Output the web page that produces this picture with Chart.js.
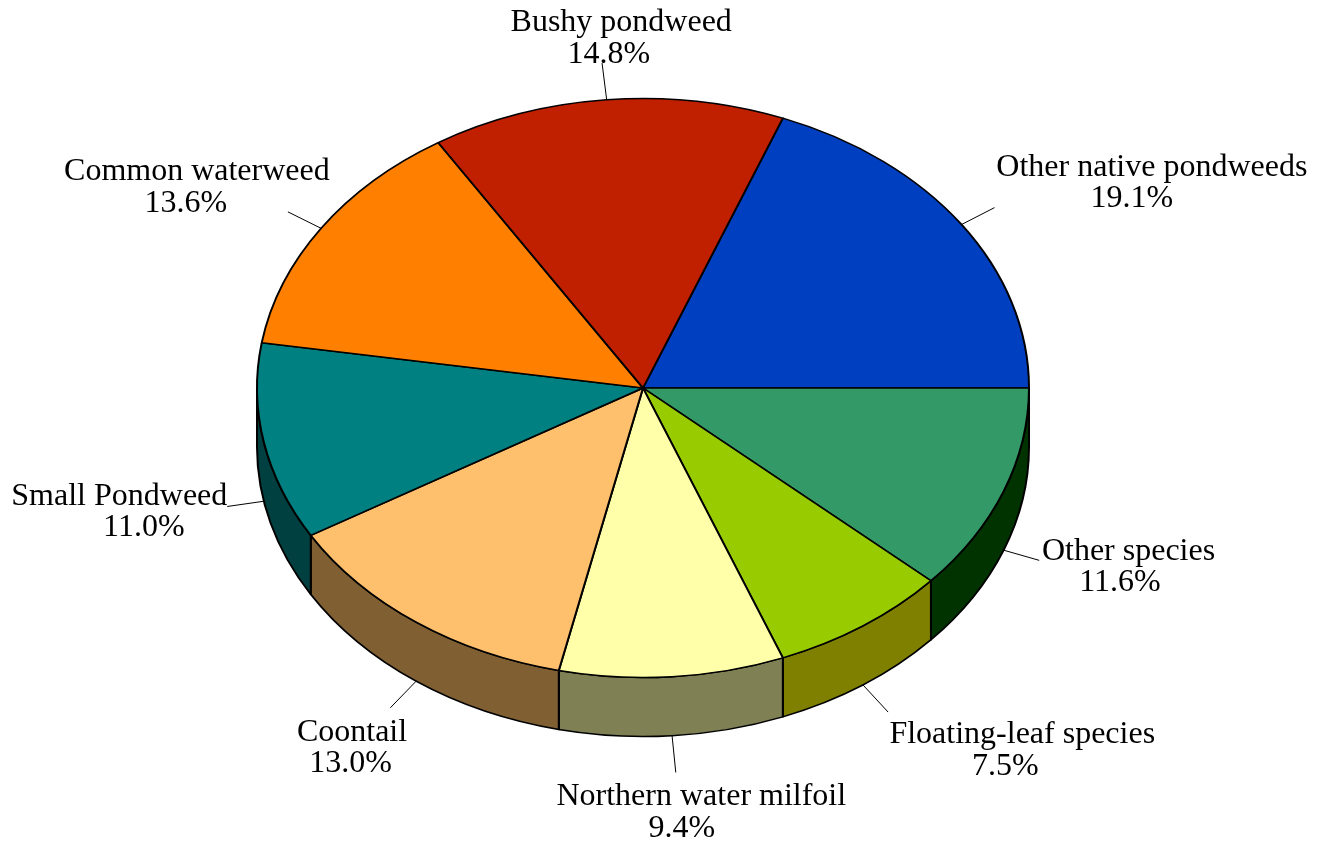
<!DOCTYPE html>
<html>
<head>
<meta charset="utf-8">
<script src="https://cdn.jsdelivr.net/npm/chart.js@4"></script>
<style>
  html, body { margin: 0; padding: 0; background: #fff; }
  #wrap { width: 1328px; height: 844px; }
</style>
</head>
<body>
<div id="wrap"><canvas id="c" width="1328" height="844"></canvas></div>
<script>
// Plant community composition (share of total, %)
const categories = [
  'Other native pondweeds',
  'Other species',
  'Floating-leaf species',
  'Northern water milfoil',
  'Coontail',
  'Small Pondweed',
  'Common waterweed',
  'Bushy pondweed'
];
const shares = [19.1, 11.6, 7.5, 9.4, 13.0, 11.0, 13.6, 14.8];

// Top face and side wall colours per slice
const topColors  = ['#0040C0', '#339966', '#99CC00', '#FFFFAA', '#FFC06E', '#008080', '#FF8000', '#C02000'];
const sideColors = ['#002060', '#003300', '#808000', '#808055', '#806033', '#004040', '#804000', '#601000'];

// Fine placement of each callout block relative to its leader end
const labelNudge = [[19, -12], [6, -4], [44, 13], [11, 6], [0, 15], [-1, -1], [28, -12], [33, 5]];
// Horizontal offset of the percentage line under the name
const pctShift = [-20, -8.5, -17, -19.5, -1.5, 24.5, -11, -12.5];

const TILT = 0.75;      // vertical squash of the disc
const DEPTH = 59;       // height of the side wall in px
const LEADER = 37;      // leader line length
const ROTATION = 21.24; // start angle of the first slice, degrees from 12 o'clock
const FONT = '32px "Liberation Serif", "Times New Roman", serif';
const LINE = 31.5;

function tiltAbout(ctx, x, y) {
  ctx.translate(x, y);
  ctx.scale(1, TILT);
  ctx.translate(-x, -y);
}

// Draws the cylinder wall under the front half of the disc, then tilts the
// context so the library's own arcs are drawn as an ellipse.
const extrusion = {
  id: 'extrusion',
  beforeDatasetsDraw(chart) {
    const ctx = chart.ctx;
    const arcs = chart.getDatasetMeta(0).data;
    const cx = arcs.length ? arcs[0].x : 0;
    const cy = arcs.length ? arcs[0].y : 0;
    const d = DEPTH / TILT;
    ctx.save();
    tiltAbout(ctx, cx, cy);
    ctx.lineWidth = 2;
    ctx.strokeStyle = '#000';
    ctx.lineJoin = 'round';
    arcs.forEach((arc, i) => {
      const r = arc.outerRadius;
      for (const k of [-1, 0, 1]) {
        const a1 = Math.max(arc.startAngle + k * 2 * Math.PI, 0);
        const a2 = Math.min(arc.endAngle + k * 2 * Math.PI, Math.PI);
        if (a2 <= a1) continue;
        ctx.beginPath();
        ctx.arc(cx, cy, r, a1, a2);
        ctx.arc(cx, cy + d, r, a2, a1, true);
        ctx.closePath();
        ctx.fillStyle = sideColors[i];
        ctx.fill();
        ctx.stroke();
      }
    });
    ctx.restore();
    ctx.save();
    tiltAbout(ctx, cx, cy);
  },
  afterDatasetsDraw(chart) {
    chart.ctx.restore();
  }
};

// Leader lines and two-line labels (name + percentage)
const callouts = {
  id: 'callouts',
  afterDraw(chart) {
    const ctx = chart.ctx;
    const arcs = chart.getDatasetMeta(0).data;
    ctx.save();
    ctx.font = FONT;
    arcs.forEach((arc, i) => {
      const mid = (arc.startAngle + arc.endAngle) / 2;
      const c = Math.cos(mid), s = Math.sin(mid);
      const vx = arc.outerRadius * c, vy = arc.outerRadius * TILT * s;
      const len = Math.hypot(vx, vy);
      const ux = vx / len, uy = vy / len;
      const px = arc.x + vx;
      const py = arc.y + vy + (s > 0 ? DEPTH : 0);
      const ex = px + ux * LEADER, ey = py + uy * LEADER;

      ctx.beginPath();
      ctx.moveTo(px, py);
      ctx.lineTo(ex, ey);
      ctx.lineWidth = 1;
      ctx.strokeStyle = '#000';
      ctx.stroke();

      const lines = [categories[i], shares[i].toFixed(1) + '%'];
      const w = Math.max(...lines.map(t => ctx.measureText(t).width));
      const h = 2 * 32;
      const bx = ex + ux * w / 2 + labelNudge[i][0];
      const by = ey + uy * h / 2 + labelNudge[i][1];
      ctx.fillStyle = '#000';
      ctx.textAlign = 'center';
      ctx.textBaseline = 'alphabetic';
      ctx.fillText(lines[0], bx, by - LINE / 2 + 10.5);
      ctx.fillText(lines[1], bx + pctShift[i], by + LINE / 2 + 10.5);
    });
    ctx.restore();
  }
};

new Chart(document.getElementById('c'), {
  type: 'pie',
  data: {
    labels: categories,
    datasets: [{
      data: shares,
      backgroundColor: topColors,
      borderColor: '#000',
      borderWidth: 2,
      clip: false
    }]
  },
  options: {
    responsive: false,
    animation: false,
    events: [],
    devicePixelRatio: 1,
    rotation: ROTATION,
    layout: { padding: { left: 256, right: 298, top: 1, bottom: 69 } },
    plugins: {
      legend: { display: false },
      tooltip: { enabled: false }
    }
  },
  plugins: [extrusion, callouts]
});
</script>
</body>
</html>
